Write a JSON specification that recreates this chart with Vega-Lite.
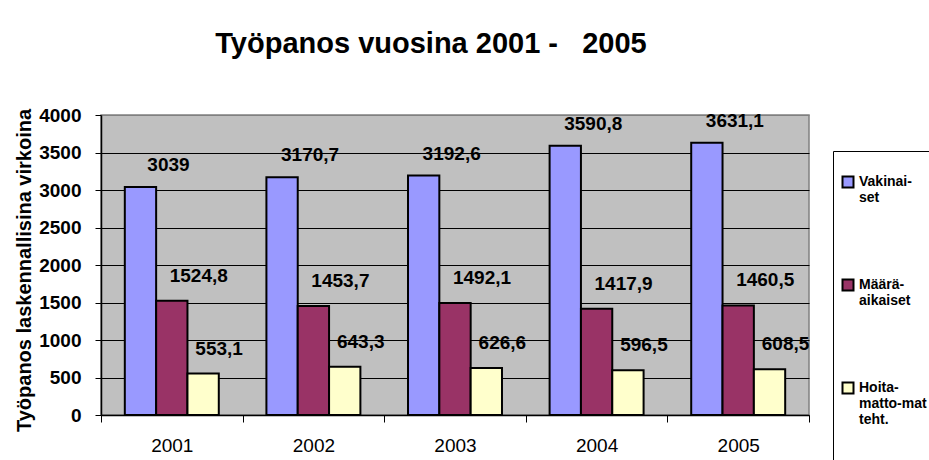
{
  "$schema": "https://vega.github.io/schema/vega-lite/v6.json",
  "autosize": {"type": "none"},
  "width": 708,
  "height": 300,
  "padding": {"left": 101, "top": 115, "right": 120, "bottom": 45},
  "background": "white",
  "title": {
    "text": "Työpanos vuosina 2001 -\u00a0\u00a0 2005",
    "font": "Liberation Sans",
    "fontSize": 29,
    "fontWeight": "bold",
    "color": "black",
    "anchor": "middle",
    "baseline": "alphabetic",
    "dx": -24,
    "offset": 24
  },
  "data": {
    "values": [
      {"vuosi": "2001", "sarja": "Vakinaiset", "arvo": 3039},
      {"vuosi": "2001", "sarja": "Määräaikaiset", "arvo": 1524.8},
      {"vuosi": "2001", "sarja": "Hoitamattomat teht.", "arvo": 553.1},
      {"vuosi": "2002", "sarja": "Vakinaiset", "arvo": 3170.7},
      {"vuosi": "2002", "sarja": "Määräaikaiset", "arvo": 1453.7},
      {"vuosi": "2002", "sarja": "Hoitamattomat teht.", "arvo": 643.3},
      {"vuosi": "2003", "sarja": "Vakinaiset", "arvo": 3192.6},
      {"vuosi": "2003", "sarja": "Määräaikaiset", "arvo": 1492.1},
      {"vuosi": "2003", "sarja": "Hoitamattomat teht.", "arvo": 626.6},
      {"vuosi": "2004", "sarja": "Vakinaiset", "arvo": 3590.8},
      {"vuosi": "2004", "sarja": "Määräaikaiset", "arvo": 1417.9},
      {"vuosi": "2004", "sarja": "Hoitamattomat teht.", "arvo": 596.5},
      {"vuosi": "2005", "sarja": "Vakinaiset", "arvo": 3631.1},
      {"vuosi": "2005", "sarja": "Määräaikaiset", "arvo": 1460.5},
      {"vuosi": "2005", "sarja": "Hoitamattomat teht.", "arvo": 608.5}
    ]
  },
  "transform": [
    {"calculate": "replace(toString(datum.arvo), '.', ',')", "as": "teksti"}
  ],
  "encoding": {
    "x": {
      "field": "vuosi",
      "type": "nominal",
      "scale": {"paddingInner": 0, "paddingOuter": 0},
      "axis": {
        "title": null,
        "labelAngle": 0,
        "labelFont": "Liberation Sans",
        "labelFontSize": 19,
        "labelColor": "black",
        "labelPadding": 14,
        "tickBand": "extent",
        "tickSize": 7,
        "tickColor": "black",
        "tickWidth": 1,
        "domainColor": "black",
        "domainWidth": 1.5
      }
    },
    "xOffset": {
      "field": "sarja",
      "type": "nominal",
      "sort": ["Vakinaiset", "Määräaikaiset", "Hoitamattomat teht."],
      "scale": {"paddingInner": 0, "paddingOuter": 0.76}
    },
    "y": {
      "field": "arvo",
      "type": "quantitative",
      "scale": {"domain": [0, 4000], "nice": false},
      "axis": {
        "title": "Työpanos laskennallisina virkoina",
        "titleFont": "Liberation Sans",
        "titleFontSize": 20,
        "titleFontWeight": "bold",
        "titleColor": "black",
        "titleX": -77,
        "titleY": 155,
        "titleAngle": -90,
        "titleAlign": "center",
        "titleBaseline": "middle",
        "values": [0, 500, 1000, 1500, 2000, 2500, 3000, 3500, 4000],
        "format": "d",
        "labelFont": "Liberation Sans",
        "labelFontSize": 19,
        "labelFontWeight": "bold",
        "labelColor": "black",
        "labelPadding": 14,
        "tickSize": 6,
        "tickColor": "black",
        "domainColor": "black",
        "domainWidth": 1.5,
        "grid": true,
        "gridColor": {"condition": {"test": "datum.value >= 4000", "value": "#808080"}, "value": "black"},
        "gridWidth": 1
      }
    }
  },
  "layer": [
    {
      "mark": {"type": "bar", "stroke": "black", "strokeWidth": 2},
      "encoding": {
        "color": {
          "field": "sarja",
          "type": "nominal",
          "sort": ["Vakinaiset", "Määräaikaiset", "Hoitamattomat teht."],
          "scale": {
            "domain": ["Vakinaiset", "Määräaikaiset", "Hoitamattomat teht."],
            "range": ["#9999FF", "#993366", "#FFFFCC"]
          },
          "legend": {
            "orient": "none",
            "legendX": 732,
            "legendY": 36,
            "title": "\u00a0",
            "titleFontSize": 10,
            "titlePadding": 6,
            "padding": 8,
            "strokeColor": "black",
            "fillColor": "white",
            "symbolType": "square",
            "symbolSize": 121,
            "symbolStrokeColor": "black",
            "symbolStrokeWidth": 2,
            "symbolOpacity": 1,
            "labelFont": "Liberation Sans",
            "labelFontSize": 14,
            "labelFontWeight": "bold",
            "labelColor": "black",
            "labelBaseline": "middle",
            "labelOffset": 4,
            "labelLimit": 200,
            "rowPadding": 6,
            "labelExpr": "datum.label == 'Vakinaiset' ? ['Vakinai-', 'set', ' ', ' ', ' ', ' '] : datum.label == 'Määräaikaiset' ? ['Määrä-', 'aikaiset', ' ', ' ', ' ', ' '] : ['Hoita-', 'matto-mat', 'teht.', ' ', ' ', ' ']"
          }
        }
      }
    },
    {
      "transform": [{"filter": "datum.sarja == 'Vakinaiset'"}],
      "mark": {"type": "text", "font": "Liberation Sans", "fontSize": 19, "fontWeight": "bold", "color": "black", "dx": 28, "dy": -22, "baseline": "middle"},
      "encoding": {"text": {"field": "teksti"}}
    },
    {
      "transform": [{"filter": "datum.sarja == 'Määräaikaiset'"}],
      "mark": {"type": "text", "font": "Liberation Sans", "fontSize": 19, "fontWeight": "bold", "color": "black", "dx": 27, "dy": -25, "baseline": "middle"},
      "encoding": {"text": {"field": "teksti"}}
    },
    {
      "transform": [{"filter": "datum.sarja == 'Hoitamattomat teht.'"}],
      "mark": {"type": "text", "font": "Liberation Sans", "fontSize": 19, "fontWeight": "bold", "color": "black", "dx": 16, "dy": -25, "baseline": "middle"},
      "encoding": {"text": {"field": "teksti"}}
    }
  ],
  "config": {
    "view": {"fill": "#C0C0C0", "stroke": "#808080", "strokeWidth": 1.5}
  }
}
